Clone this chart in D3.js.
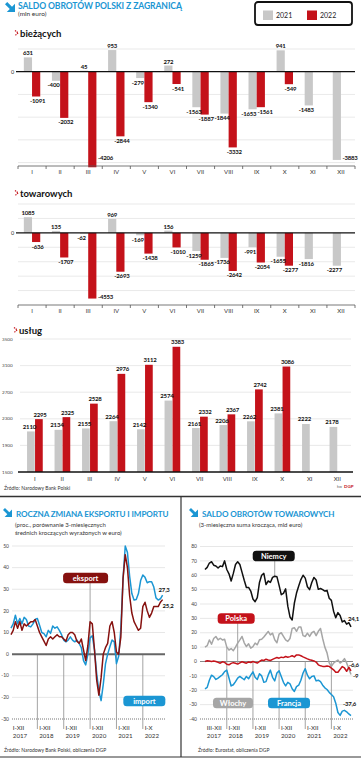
<!DOCTYPE html>
<html><head><meta charset="utf-8">
<script src="https://cdn.jsdelivr.net/npm/d3@7/dist/d3.min.js"></script>
<style>
html,body{margin:0;padding:0;background:#fff;}
svg{display:block;}
</style></head>
<body><svg id="chart" width="361" height="760"></svg>
<script>
// ---------------- DATA ----------------
const months = ["I","II","III","IV","V","VI","VII","VIII","IX","X","XI","XII"];
const series = ["2021","2022"];
const biezace2021 = [631,-400,45,953,-279,272,-1563,-1844,-1653,941,-1483,-3883];
const biezace2022 = [-1091,-2032,-4206,-2844,-1340,-541,-1887,-3332,-1561,-549,null,null];
const towarowe2021 = [1085,135,-62,969,-169,156,-1259,-1736,-991,-1655,-1816,-2277];
const towarowe2022 = [-636,-1707,-4553,-2693,-1438,-1010,-1865,-2642,-2054,-2277,null,null];
const uslugi2021 = [2110,2134,2155,2264,2142,2574,2161,2206,2262,2381,2222,2178];
const uslugi2022 = [2295,2325,2528,2976,3112,3383,2332,2367,2742,3086,null,null];
const uslugiTicks = [1500,1900,2300,2700,3100,3500];

// monthly, I 2017 - X 2022 (rok do roku, %)
const eksport = [9,11,15,12,15,11,14,13,14,15,15,16,
  13,10,8,6,4,7,8,7,8,9,8,8,
  7,6,9,10,10,9,6,5,7,2,-3,4,
  15,14,2,-12,-19,-11,0,3,5,13,15,10,
  1,0,8,35,46,40,27,19,15,13,11,12,
  22,24,20,17,19,22,22,22,24,25.2];
const importy = [12,14,18,14,16.5,14,17,16,13,12.6,14,16,
  16.5,13.4,10,9.5,8,11,9.6,13,12,12.6,11,9,
  6.5,5.7,6.5,8,6.5,5.7,6.5,5,3,-3,-5,0,
  7.5,8.5,2,-9,-17,-21.5,-14,-4.5,0,3.4,6.5,5.7,
  -4.4,-1,12,35,50,47,36,28,25,25.3,28,34,
  36.6,35.5,33,33.5,33.5,31,26,25,25.6,27.3];
const lineTicksL = [-30,-20,-10,0,10,20,30,40,50];
const periodsL = [["I-XII","2017"],["I-XII","2018"],["I-XII","2019"],["I-XII","2020"],["I-XII","2021"],["I-X","2022"]];

// monthly, III 2017 - X 2022 (mld euro)
const niemcy = [64,65.5,68.5,69.4,67,66.4,65,66.4,66,70,64,61,56,61.3,67.5,69.4,67.5,62,56.5,51.5,51.5,49,43.5,41.6,
  44.5,55,60,61.3,53.5,56,55,58.5,59.3,59,53,46.5,47.4,50.5,38.5,31,28.9,40.5,47.6,52.5,57,60,58,52,
  50,55,58.5,56.7,50.2,50.8,50,49,49.5,44,42.5,35,30.5,34,32,27.5,28.5,26,27,24.1];
const polska = [0,0.5,0.3,0,0.3,0,-0.6,-1.2,-0.2,-0.6,-1.9,-2.3,-1.3,-0.8,-1.2,-1.8,-1,-0.2,-0.7,-1.2,-0.3,-0.7,0,-0.6,
  -1.1,0,1,0.7,1.6,1.1,0.7,1.5,2.2,2.8,2.3,3,2.7,3.5,3,3.4,4,3.2,4.6,4.6,4,3.2,2.5,1.8,
  1.2,0.8,0.4,-0.4,-2.3,-3,-3.4,-3.5,-3.1,-3.4,-4.6,-5.8,-7.5,-7.5,-5.5,-3.5,-4.5,-6.8,-4,-6.6];
const wlochy = [10,11,15,12,16,17.4,15,16.2,15,15.5,10,8,9,7.5,10,12.8,15,17.4,13,10.4,12.3,9.3,10.4,12.8,
  11.6,15.1,15.5,17,19,20.9,18.5,19.7,15.1,13,19,20,17.5,15,14,16,23,23.5,21,24,24,18,17.4,19.7,
  17.5,20,21,18,21,23,16,10,6,-1,-3.4,-1.1,0,1,-1.1,0,2,-1,-5,-9];
const francja = [-19,-18,-13,-9.5,-10.5,-12.5,-11.5,-10.4,-9.2,-7,-6,-11.5,-17,-16.2,-14,-11.5,-10.4,-11.5,-12.7,-10.4,-12,-9.5,-7.2,-11,
  -12.5,-8.5,-10,-14.5,-14,-9.5,-6,-11,-13.5,-8,-6.5,-10.5,-14.5,-17,-14.5,-15.5,-19,-20.8,-17.5,-16.5,-13,-8,-5,-9.5,
  -12,-10.4,-10,-13.5,-13,-14,-16.5,-18.3,-19.5,-21.5,-23,-24.5,-29,-35.5,-37.5,-34.5,-34,-35,-36.5,-37.6];
const lineTicksR = [-40,-30,-20,-10,0,10,20,30,40,50,60,70,80];
const periodsR = [["III-XII","2017"],["I-XII","2018"],["I-XII","2019"],["I-XII","2020"],["I-XII","2021"],["I-X","2022"]];

// ---------------- STYLE ----------------
const svg = d3.select("#chart");
const F = "Lato, 'Open Sans', 'DejaVu Sans', sans-serif";
const BLUE = "#1b96d3", GRAYBAR = "#c8c8c8", RED = "#c4121a", DARKRED = "#86110f";

function txt(g, x, y, s, size, o = {}) {
  const t = g.append("text").attr("x", x).attr("y", y).text(s)
    .attr("font-family", F).attr("font-size", size)
    .attr("fill", o.fill || "#222").attr("font-weight", o.weight || "normal")
    .attr("text-anchor", o.anchor || "start");
  if (o.ls !== undefined) t.attr("letter-spacing", o.ls);
  return t;
}
function arrowIcon(x, y, s) {
  svg.append("path").attr("transform", `translate(${x},${y}) scale(${s / 10})`)
    .attr("d", "M0,2.2 L2.2,0 L7,4.8 L10,1.8 L10,10 L1.8,10 L4.8,7 Z").attr("fill", BLUE);
}
function panelTitle(x, y, s) {
  svg.append("path").attr("d", `M${x},${y - 6} L${x + 3.2},${y - 3.5} L${x},${y - 1}`)
    .attr("fill", "none").attr("stroke", RED).attr("stroke-width", 1.2).attr("stroke-dasharray", "1.3,0.8");
  txt(svg, x + 5, y, s, 9.5, { weight: "bold", fill: "#111" });
}
function tag(cx, cy, w, s, fill) {
  svg.append("rect").attr("x", cx - w / 2).attr("y", cy - 5.2).attr("width", w).attr("height", 10.4)
    .attr("rx", 3.5).attr("fill", fill);
  txt(svg, cx, cy + 2.6, s, 7.5, { fill: "#fff", weight: "bold", anchor: "middle" });
}

// ---------------- HEADER ----------------
arrowIcon(5, 2, 10);
txt(svg, 18, 8.5, "SALDO OBROTÓW POLSKI Z ZAGRANICĄ", 8.6, { fill: BLUE, weight: "bold", ls: -0.1 });
txt(svg, 18, 16, "(mln euro)", 6.5, { fill: "#333" });
svg.append("rect").attr("x", 255).attr("y", 2).attr("width", 97).attr("height", 23).attr("rx", 3)
  .attr("fill", "none").attr("stroke", "#111").attr("stroke-width", 1.8);
const legColors = [GRAYBAR, RED];
series.forEach((s, i) => {
  const lx = 263 + i * 44;
  svg.append("rect").attr("x", lx).attr("y", 10.5).attr("width", 10).attr("height", 9.5).attr("fill", legColors[i]);
  txt(svg, lx + 13, 18, s, 7, { fill: "#222" });
});

// ---------------- DIVERGING BAR PANELS ----------------
function divPanel(v21, v22, yd, yr, grid) {
  const g = svg.append("g");
  const axisY = yr[1];
  const x = d3.scaleBand().domain(months).range([18, 355]);
  const y = d3.scaleLinear().domain(yd).range(yr);
  const bw = 8.2;
  g.selectAll("line.grid").data(grid).join("line")
    .attr("x1", 18).attr("x2", 355).attr("y1", d => y(d)).attr("y2", d => y(d))
    .attr("stroke", "#e3e3e3").attr("stroke-width", 0.8);
  const data = months.map((m, i) => ({ m, a: v21[i], b: v22[i] }));
  g.selectAll("rect.a").data(data).join("rect")
    .attr("x", d => x(d.m) + x.bandwidth() / 2 - bw).attr("width", bw)
    .attr("y", d => Math.min(y(0), y(d.a))).attr("height", d => Math.abs(y(d.a) - y(0)))
    .attr("fill", GRAYBAR);
  g.selectAll("rect.b").data(data.filter(d => d.b !== null)).join("rect")
    .attr("x", d => x(d.m) + x.bandwidth() / 2).attr("width", bw)
    .attr("y", d => Math.min(y(0), y(d.b))).attr("height", d => Math.abs(y(d.b) - y(0)))
    .attr("fill", RED);
  g.append("line").attr("x1", 16).attr("x2", 355).attr("y1", y(0)).attr("y2", y(0))
    .attr("stroke", "#111").attr("stroke-width", 1.2);
  txt(g, 12.5, y(0) + 2, "0", 5.5, { anchor: "middle", fill: "#333" });
  g.append("line").attr("x1", 18).attr("x2", 355).attr("y1", axisY).attr("y2", axisY)
    .attr("stroke", "#555").attr("stroke-width", 0.8);
  const bounds = months.map(m => x(m)).concat([x.range()[1]]);
  g.selectAll("line.tk").data(bounds).join("line")
    .attr("x1", d => d).attr("x2", d => d).attr("y1", axisY).attr("y2", axisY + 3)
    .attr("stroke", "#555").attr("stroke-width", 0.8);
  const ax = g.append("g").attr("transform", `translate(0,${axisY})`)
    .call(d3.axisBottom(x).tickSize(0).tickPadding(4));
  ax.select(".domain").remove();
  ax.selectAll("text").attr("font-family", F).attr("font-size", 6).attr("fill", "#333");
  function lab(d, v, gray) {
    const c = x(d.m) + x.bandwidth() / 2;
    const cx = c + (gray ? -bw / 2 : bw / 2);
    if (v >= 0) return { x: cx, y: y(v) - 2, a: "middle", s: v };
    const yb = y(v) + 6.5;
    if (yb > axisY - 1) {
      return { x: cx + bw / 2 + 1.5, y: Math.min(y(v) + 1, axisY - 6.5), a: "start", s: v };
    }
    return { x: cx + (gray ? -2.5 : 1.5), y: yb, a: "middle", s: v, c };
  }
  const labs = [];
  data.forEach(d => {
    const la = lab(d, d.a, true);
    labs.push(la);
    if (d.b !== null) {
      const lb = lab(d, d.b, false);
      labs.push(lb);
      // separate neighbouring negative labels at similar height
      if (d.a < 0 && d.b < 0 && la.a === "middle" && lb.a === "middle" && Math.abs(la.y - lb.y) < 7) {
        la.x = la.c - 0.3; la.a = "end";
        lb.x = lb.c + 0.8; lb.a = "start";
      }
    }
  });
  g.selectAll("text.val").data(labs).join("text")
    .attr("x", d => d.x).attr("y", d => d.y).attr("text-anchor", d => d.a)
    .attr("font-family", F).attr("font-size", 6).attr("font-weight", "bold").attr("letter-spacing", -0.2)
    .attr("fill", "#111").text(d => d.s);
}

panelTitle(15, 36.5, "bieżących");
divPanel(biezace2021, biezace2022, [1000, -4150], [49, 166], [1000, -1000, -2000, -3000, -4000]);

panelTitle(15, 196.5, "towarowych");
divPanel(towarowe2021, towarowe2022, [2000, -5000], [204, 305], [2000, 1000, -1000, -2000, -3000, -4000]);

// ---------------- USŁUGI ----------------
panelTitle(14, 333.5, "usług");
(function () {
  const g = svg.append("g");
  const x = d3.scaleBand().domain(months).range([21, 351]);
  const y = d3.scaleLinear().domain([1500, 3500]).range([472, 339]);
  const bw = 7.7;
  g.selectAll("line.grid").data(uslugiTicks.slice(1)).join("line")
    .attr("x1", 20).attr("x2", 351).attr("y1", d => y(d)).attr("y2", d => y(d))
    .attr("stroke", "#e3e3e3").attr("stroke-width", 0.8);
  g.selectAll("text.yt").data(uslugiTicks).join("text")
    .attr("x", 2).attr("y", d => y(d) + 1.6).attr("font-family", F).attr("font-size", 4.6)
    .attr("fill", "#444").text(d => d);
  const data = months.map((m, i) => ({ m, a: uslugi2021[i], b: uslugi2022[i] }));
  g.selectAll("rect.a").data(data).join("rect")
    .attr("x", d => x(d.m) + x.bandwidth() / 2 - bw).attr("width", bw)
    .attr("y", d => y(d.a)).attr("height", d => y(1500) - y(d.a)).attr("fill", GRAYBAR);
  g.selectAll("rect.b").data(data.filter(d => d.b !== null)).join("rect")
    .attr("x", d => x(d.m) + x.bandwidth() / 2 + 0.3).attr("width", bw)
    .attr("y", d => y(d.b)).attr("height", d => y(1500) - y(d.b)).attr("fill", RED);
  g.append("line").attr("x1", 18).attr("x2", 353).attr("y1", y(1500)).attr("y2", y(1500))
    .attr("stroke", "#111").attr("stroke-width", 1.5);
  const ax = g.append("g").attr("transform", `translate(0,${y(1500)})`)
    .call(d3.axisBottom(x).tickSize(0).tickPadding(5));
  ax.select(".domain").remove();
  ax.selectAll("text").attr("font-family", F).attr("font-size", 6).attr("fill", "#333");
  const labs = [];
  data.forEach(d => {
    labs.push({ x: x(d.m) + x.bandwidth() / 2 - bw / 2 - 1.5, y: y(d.a) - 2.5, s: d.a });
    if (d.b !== null) labs.push({ x: x(d.m) + x.bandwidth() / 2 + bw / 2 + 1.5, y: y(d.b) - 2.5, s: d.b });
  });
  g.selectAll("text.val").data(labs).join("text")
    .attr("x", d => d.x).attr("y", d => d.y).attr("text-anchor", "middle")
    .attr("font-family", F).attr("font-size", 6).attr("font-weight", "bold").attr("letter-spacing", -0.2)
    .attr("fill", "#111").text(d => d.s);
  txt(g, 4, 490, "Źródło: Narodowy Bank Polski", 5, { fill: "#333" });
  txt(g, 337, 488, "kw", 3.8, { fill: "#666" });
  txt(g, 344, 488, "DGP", 4.5, { fill: RED, weight: "bold" });
})();

// ---------------- FRAMES ----------------
svg.append("line").attr("x1", 0).attr("x2", 361).attr("y1", 496.5).attr("y2", 496.5).attr("stroke", "#333").attr("stroke-width", 1.5);
svg.append("line").attr("x1", 181).attr("x2", 181).attr("y1", 496.5).attr("y2", 757).attr("stroke", "#333").attr("stroke-width", 1.2);
svg.append("line").attr("x1", 0).attr("x2", 361).attr("y1", 757).attr("y2", 757).attr("stroke", "#333").attr("stroke-width", 1);

// ---------------- LEFT LINE CHART ----------------
(function () {
  const g = svg.append("g");
  arrowIcon(3, 508, 9);
  txt(g, 16, 517, "ROCZNA ZMIANA EKSPORTU I IMPORTU", 8.1, { fill: BLUE, weight: "bold", ls: -0.1 });
  txt(g, 15, 526.5, "(proc., porównanie 3-miesięcznych", 6, { fill: "#333" });
  txt(g, 15, 534.5, "średnich kroczących wyrażonych w euro)", 6, { fill: "#333" });
  const x = d3.scaleLinear().domain([0, 69]).range([11, 162.6]);
  const y = d3.scaleLinear().domain([-30, 50]).range([719, 546]);
  g.selectAll("line.grid").data(lineTicksL.filter(d => d !== 0 && d !== -30)).join("line")
    .attr("x1", 12).attr("x2", 165).attr("y1", d => y(d)).attr("y2", d => y(d))
    .attr("stroke", "#dcdcdc").attr("stroke-width", 0.7);
  g.append("line").attr("x1", 12).attr("x2", 165).attr("y1", y(-30)).attr("y2", y(-30))
    .attr("stroke", "#666").attr("stroke-width", 0.9).attr("stroke-dasharray", "1,1");
  g.selectAll("text.yt").data(lineTicksL).join("text")
    .attr("x", 9).attr("y", d => y(d) + 1.7).attr("text-anchor", "end")
    .attr("font-family", F).attr("font-size", 5).attr("fill", "#444").text(d => d);
  const starts = periodsL.map((p, i) => i * 12);
  g.selectAll("line.sep").data(starts.slice(1)).join("line")
    .attr("x1", d => x(d)).attr("x2", d => x(d))
    .attr("y1", d => d === 36 ? 583 : y(0)).attr("y2", 729)
    .attr("stroke", "#9a9a9a").attr("stroke-width", 0.9);
  g.append("line").attr("x1", 12).attr("x2", 165).attr("y1", y(0)).attr("y2", y(0))
    .attr("stroke", "#666").attr("stroke-width", 2);
  const line = d3.line().x((d, i) => x(i)).y(d => y(d)).curve(d3.curveLinear);
  g.append("path").datum(importy).attr("d", line).attr("fill", "none").attr("stroke", BLUE).attr("stroke-width", 1.5).attr("stroke-linejoin", "round");
  g.append("path").datum(eksport).attr("d", line).attr("fill", "none").attr("stroke", DARKRED).attr("stroke-width", 1.5).attr("stroke-linejoin", "round");
  periodsL.forEach((p, i) => {
    txt(g, x(starts[i]) + 1.8, 730, p[0], 6.2, { fill: "#333" });
    txt(g, x(starts[i]) + 1.8, 737.5, p[1], 6.2, { fill: "#333" });
  });
  const n = eksport.length - 1;
  txt(g, x(n) - 4, y(importy[n]) - 3, String(importy[n]).replace(".", ","), 6, { weight: "bold", fill: "#111", ls: -0.2 });
  txt(g, x(n), y(eksport[n]) + 8.5, String(eksport[n]).replace(".", ","), 6, { weight: "bold", fill: "#111", ls: -0.2 });
  tag(x(36) - 4.5, 578, 45, "eksport", DARKRED);
  tag(x(60) + 1.5, 701, 42, "import", BLUE);
  txt(g, 4, 752, "Źródło: Narodowy Bank Polski, obliczenia DGP", 5, { fill: "#333" });
})();

// ---------------- RIGHT LINE CHART ----------------
(function () {
  const g = svg.append("g");
  arrowIcon(189, 508, 9);
  txt(g, 202, 517, "SALDO OBROTÓW TOWAROWYCH", 8.1, { fill: BLUE, weight: "bold", ls: -0.1 });
  txt(g, 199, 527, "(3-miesięczna suma krocząca, mld euro)", 6, { fill: "#333" });
  const x = d3.scaleLinear().domain([2, 69]).range([205, 351]);
  const y = d3.scaleLinear().domain([-40, 80]).range([719, 546.5]);
  g.selectAll("line.grid").data(lineTicksR.filter(d => d !== 0 && d !== -40)).join("line")
    .attr("x1", 200).attr("x2", 353).attr("y1", d => y(d)).attr("y2", d => y(d))
    .attr("stroke", "#dcdcdc").attr("stroke-width", 0.7);
  g.append("line").attr("x1", 200).attr("x2", 353).attr("y1", y(-40)).attr("y2", y(-40))
    .attr("stroke", "#666").attr("stroke-width", 0.9).attr("stroke-dasharray", "1,1");
  g.append("line").attr("x1", 200).attr("x2", 353).attr("y1", y(0)).attr("y2", y(0))
    .attr("stroke", "#888").attr("stroke-width", 1);
  g.selectAll("text.yt").data(lineTicksR).join("text")
    .attr("x", 197).attr("y", d => y(d) + 1.7).attr("text-anchor", "end")
    .attr("font-family", F).attr("font-size", 5).attr("fill", "#444").text(d => d);
  const starts = [2, 12, 24, 36, 48, 60];
  g.selectAll("line.sep").data(starts.slice(1)).join("line")
    .attr("x1", d => x(d)).attr("x2", d => x(d))
    .attr("y1", d => d === 12 ? y(wlochy[d - 2]) : y(0)).attr("y2", 729)
    .attr("stroke", "#9a9a9a").attr("stroke-width", 0.9);
  const mN = 34, mP = 17;
  g.append("line").attr("x1", x(mN)).attr("x2", x(mN)).attr("y1", 561).attr("y2", y(niemcy[mN - 2]))
    .attr("stroke", "#9a9a9a").attr("stroke-width", 0.9);
  g.append("line").attr("x1", x(mP)).attr("x2", x(mP)).attr("y1", 623).attr("y2", y(polska[mP - 2]))
    .attr("stroke", "#9a9a9a").attr("stroke-width", 0.9);
  const line = d3.line().x((d, i) => x(i + 2)).y(d => y(d));
  [[wlochy, "#a6a6a6"], [francja, BLUE], [polska, RED], [niemcy, "#111"]].forEach(([s, c]) => {
    g.append("path").datum(s).attr("d", line).attr("fill", "none").attr("stroke", c)
      .attr("stroke-width", 1.5).attr("stroke-linejoin", "round");
  });
  periodsR.forEach((p, i) => {
    txt(g, x(starts[i]) + 1.8, 730, p[0], 6.2, { fill: "#333" });
    txt(g, x(starts[i]) + 1.8, 737.5, p[1], 6.2, { fill: "#333" });
  });
  const n = niemcy.length - 1;
  const fmt = v => String(v).replace(".", ",");
  txt(g, x(69) - 3, y(niemcy[n]) - 6, fmt(niemcy[n]), 6, { weight: "bold", fill: "#111", ls: -0.2 });
  txt(g, x(69) - 2, y(polska[n]) - 3.5, fmt(polska[n]), 6, { weight: "bold", fill: "#111", ls: -0.2 });
  txt(g, x(69) + 2, y(wlochy[n]) + 4, fmt(wlochy[n]), 6, { weight: "bold", fill: "#111", ls: -0.2 });
  txt(g, x(69) - 8, y(francja[n]) - 10, fmt(francja[n]), 6, { weight: "bold", fill: "#111", ls: -0.2 });
  tag(x(mN) - 1, 556, 42, "Niemcy", "#111");
  tag(x(mP) - 1.5, 618.5, 37, "Polska", RED);
  tag(233, 703, 40, "Włochy", "#a6a6a6");
  tag(289, 703, 42, "Francja", BLUE);
  txt(g, 198, 752, "Źródło: Eurostat, obliczenia DGP", 5, { fill: "#333" });
})();
</script>
</body></html>
